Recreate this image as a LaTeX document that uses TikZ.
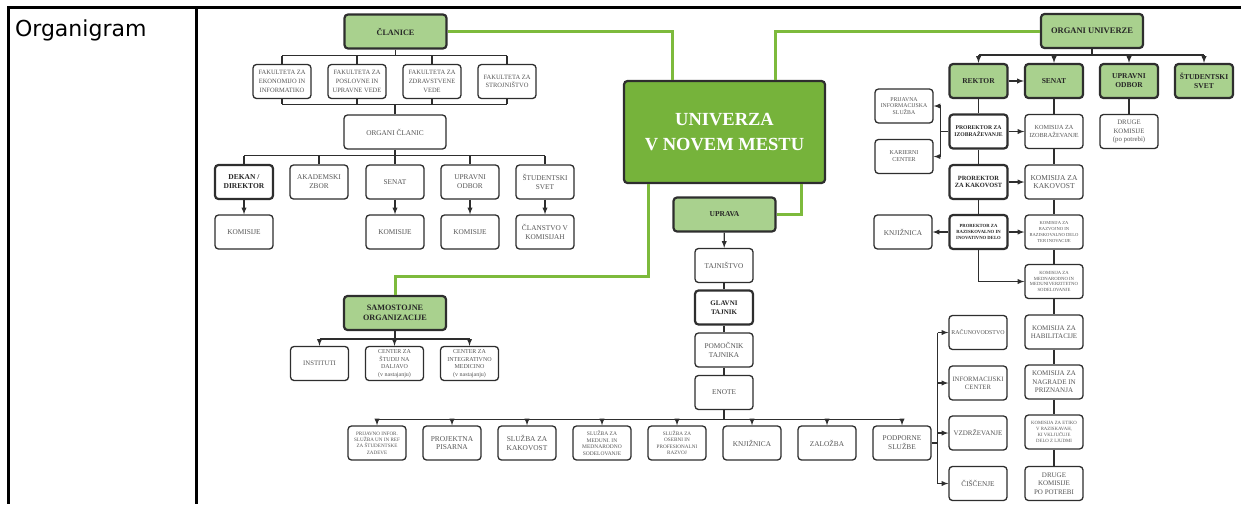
\documentclass[tikz,border=0pt]{standalone}
\usepackage{fontspec}
\setmainfont{Liberation Serif}
\newfontfamily\headfont{DejaVu Sans}
\usetikzlibrary{arrows}

\definecolor{boxline}{HTML}{2E2E2E}
\definecolor{boxtext}{HTML}{555555}
\definecolor{palegreen}{HTML}{A9D18E}
\definecolor{midgreen}{HTML}{76B33B}
\definecolor{linegreen}{HTML}{7DBA3C}

\tikzset{
  box/.style={draw=boxline, line width=1.3pt, rounded corners=3.5pt, fill=white,
    minimum width=58pt, minimum height=34pt, inner sep=0pt, align=center,
    text=boxtext, font=\fontsize{7.3}{8.8}\selectfont},
  boldbox/.style={box, line width=2.2pt, text=black!85, execute at begin node=\bfseries},
  greenbox/.style={boldbox, fill=palegreen},
  wide/.style={minimum width=102pt},
  fs/.style 2 args={font=\fontsize{#1}{#2}\selectfont},
  link/.style={draw=boxline, line width=1.3pt},
  arr/.style={link, ->},
  greenlink/.style={draw=linegreen, line width=3pt}
}

\begin{document}
\begin{tikzpicture}[x=1pt, y=-1pt, >=latex]
\useasboundingbox (0,0) rectangle (1241,504);

% table frame
\draw[line width=3pt] (7,7.5) -- (1241,7.5);
\draw[line width=3pt] (8.5,6) -- (8.5,504);
\draw[line width=3pt] (196.5,6) -- (196.5,504);
\node[anchor=base west, font=\headfont\fontsize{22}{24}\selectfont] (title) at (11.5,36.5) {Organigram};

% univerza
\node[box, line width=2.2pt, fill=midgreen, minimum width=201pt, minimum height=102pt,
  text=white, font=\bfseries\fontsize{18.5}{25}\selectfont] (univerza) at (724.5,132)
  {UNIVERZA\\V NOVEM MESTU};
\node[greenbox, wide, fs={7.5}{9}] (uprava) at (724.5,214.5) {UPRAVA};

% clanice
\node[greenbox, wide, fs={8.2}{9}] (clanice) at (395.5,31.5) {ČLANICE};
\node[box, fs={6.5}{8.7}] (fak1) at (282,81.5) {FAKULTETA ZA\\EKONOMIJO IN\\INFORMATIKO};
\node[box, fs={6.5}{8.7}] (fak2) at (357,81.5) {FAKULTETA ZA\\POSLOVNE IN\\UPRAVNE VEDE};
\node[box, fs={6.5}{8.7}] (fak3) at (432,81.5) {FAKULTETA ZA\\ZDRAVSTVENE\\VEDE};
\node[box, fs={6.5}{8.7}] (fak4) at (507,81.5) {FAKULTETA ZA\\STROJNIŠTVO};
\node[box, wide] (organi) at (395,132) {ORGANI ČLANIC};
\node[boldbox, fs={7.5}{9}] (dekan) at (244,182) {DEKAN /\\DIREKTOR};
\node[box] (zbor) at (319,182) {AKADEMSKI\\ZBOR};
\node[box] (senatc) at (395,182) {SENAT};
\node[box] (odborc) at (470,182) {UPRAVNI\\ODBOR};
\node[box] (svetc) at (545,182) {ŠTUDENTSKI\\SVET};
\node[box] (kom1) at (244,232) {KOMISIJE};
\node[box] (kom2) at (395,232) {KOMISIJE};
\node[box] (kom3) at (470,232) {KOMISIJE};
\node[box] (clanstvo) at (545,232) {ČLANSTVO V\\KOMISIJAH};

% samostojne organizacije
\node[greenbox, wide, fs={8.2}{9.5}] (samost) at (395,313) {SAMOSTOJNE\\ORGANIZACIJE};
\node[box, fs={6.8}{8}] (inst) at (319.5,363.5) {INSTITUTI};
\node[box, fs={6}{7.6}] (dalj) at (394.5,363.5) {CENTER ZA\\ŠTUDIJ NA\\DALJAVO\\(v nastajanju)};
\node[box, fs={6}{7.6}] (integr) at (469.5,363.5) {CENTER ZA\\INTEGRATIVNO\\MEDICINO\\(v nastajanju)};

% uprava
\node[box] (tajnistvo) at (724,265.5) {TAJNIŠTVO};
\node[boldbox, fs={7}{8.6}] (glavni) at (724,307.5) {GLAVNI\\TAJNIK};
\node[box] (pomocnik) at (724,350) {POMOČNIK\\TAJNIKA};
\node[box] (enote) at (724,392.5) {ENOTE};
\node[box, fs={5.1}{6.3}] (en1) at (377,443) {PRIJAVNO INFOR.\\SLUŽBA UN IN REF\\ZA ŠTUDENTSKE\\ZADEVE};
\node[box, fs={7.4}{8.5}] (en2) at (452,443) {PROJEKTNA\\PISARNA};
\node[box, fs={7.4}{8.5}] (en3) at (527,443) {SLUŽBA ZA\\KAKOVOST};
\node[box, fs={5.5}{6.5}] (en4) at (602,443) {SLUŽBA ZA\\MEDUNI. IN\\MEDNARODNO\\SODELOVANJE};
\node[box, fs={5.2}{6.5}] (en5) at (677,443) {SLUŽBA ZA\\OSEBNI IN\\PROFESIONALNI\\RAZVOJ};
\node[box] (knjiz) at (752,443) {KNJIŽNICA};
\node[box] (zalozba) at (827,443) {ZALOŽBA};
\node[box] (podporne) at (902,443) {PODPORNE\\SLUŽBE};
\node[box, fs={5.9}{7}] (rac) at (978,332.5) {RAČUNOVODSTVO};
\node[box, fs={6.7}{8}] (info) at (978,383) {INFORMACIJSKI\\CENTER};
\node[box, fs={7}{8}] (vzdr) at (978,433) {VZDRŽEVANJE};
\node[box] (cisc) at (978,483.5) {ČIŠČENJE};

% organi univerze
\node[greenbox, wide, fs={8.5}{9.5}] (organiu) at (1092,31) {ORGANI UNIVERZE};
\node[greenbox, fs={7.5}{9}] (rektor) at (978.5,81) {REKTOR};
\node[greenbox, fs={7.5}{9}] (senat) at (1054,81) {SENAT};
\node[greenbox, fs={7.5}{9}] (odbor) at (1129,81) {UPRAVNI\\ODBOR};
\node[greenbox, fs={7.5}{9}] (svet) at (1204,81) {ŠTUDENTSKI\\SVET};
\node[box, fs={6.8}{8.7}] (druge) at (1129,131.5) {DRUGE\\KOMISIJE\\(po potrebi)};
\node[boldbox, fs={5.7}{7}] (prizob) at (978.5,131.5) {PROREKTOR ZA\\IZOBRAŽEVANJE};
\node[box, fs={6.2}{7.5}] (komizob) at (1054,131.5) {KOMISIJA ZA\\IZOBRAŽEVANJE};
\node[box, fs={5.8}{6.6}] (prijavna) at (904,106) {PRIJAVNA\\INFORMACIJSKA\\SLUŽBA};
\node[box, fs={6}{7}] (kariera) at (904,156.5) {KARIERNI\\CENTER};
\node[boldbox, fs={6.4}{7.8}] (przkak) at (978.5,182) {PROREKTOR\\ZA KAKOVOST};
\node[box, fs={7.5}{8.8}] (komkak) at (1054,182) {KOMISIJA ZA\\KAKOVOST};
\node[boldbox, fs={4.7}{6}] (przraz) at (978.5,232) {PROREKTOR ZA\\RAZISKOVALNO IN\\INOVATIVNO DELO};
\node[box, fs={4.6}{5.8}] (komraz) at (1054,232) {KOMISIJA ZA\\RAZVOJNO IN\\RAZISKOVALNO DELO\\TER INOVACIJE};
\node[box] (knjizu) at (903,232) {KNJIŽNICA};
\node[box, fs={4.7}{5.8}] (kommed) at (1054,281.5) {KOMISIJA ZA\\MEDNARODNO IN\\MEDUNIVERZITETNO\\SODELOVANJE};
\node[box, fs={7}{8.5}] (komhab) at (1054,332) {KOMISIJA ZA\\HABILITACIJE};
\node[box, fs={7}{8.5}] (komnag) at (1054,382) {KOMISIJA ZA\\NAGRADE IN\\PRIZNANJA};
\node[box, fs={4.8}{5.8}] (kometi) at (1054,432) {KOMISIJA ZA ETIKO\\V RAZISKAVAH,\\KI VKLJUČUJE\\DELO Z LJUDMI};
\node[box, fs={7}{8.5}] (komdrug) at (1054,483.5) {DRUGE\\KOMISIJE\\PO POTREBI};

% green links
\draw[greenlink] (clanice.east) -| ([xshift=50pt]univerza.north west);
\draw[greenlink] (organiu.west) -| ([xshift=-51pt]univerza.north east);
\draw[greenlink] ([xshift=26pt]univerza.south west) -- ++(0,92) -| (samost.north);
\draw[greenlink] ([xshift=-25pt]univerza.south east) |- (uprava.east);

% clanice tree
\draw[link] (clanice.south) -- ++(0,6) coordinate (clbus);
\draw[link] (fak1.north |- clbus) -- (fak4.north |- clbus);
\draw[link] (organi.north) -- ++(0,-10) coordinate (fakbus);
\draw[link] (fak1.south |- fakbus) -- (fak4.south |- fakbus);
\foreach \f in {fak1,fak2,fak3,fak4} {
  \draw[link] (\f.north |- clbus) -- (\f.north);
  \draw[link] (\f.south) -- (\f.south |- fakbus);
}
\draw[link] (organi.south) -- ++(0,6) coordinate (orbus);
\draw[link] (dekan.north |- orbus) -- (svetc.north |- orbus);
\foreach \f in {dekan,zbor,senatc,odborc,svetc}
  \draw[link] (\f.north |- orbus) -- (\f.north);
\foreach \a/\b in {dekan/kom1,senatc/kom2,odborc/kom3,svetc/clanstvo}
  \draw[arr] (\a) -- (\b);

% samostojne
\draw[link] (samost.south) -- ++(0,8) coordinate (sobus);
\draw[link] (inst.north |- sobus) -- (integr.north |- sobus);
\foreach \f in {inst,dalj,integr}
  \draw[arr] (\f.north |- sobus) -- (\f.north);

% uprava column
\draw[arr] (uprava) -- (tajnistvo);
\draw[link] (tajnistvo) -- (glavni) -- (pomocnik) -- (enote);
\draw[link] (enote.south) -- ++(0,9) coordinate (enbus);
\draw[link] (en1.north |- enbus) -- (podporne.north |- enbus);
\foreach \f in {en1,en2,en3,en4,en5,knjiz,zalozba,podporne}
  \draw[arr] (\f.north |- enbus) -- (\f.north);
\draw[link] (podporne.east) -- ++(6,0) coordinate (pobus);
\draw[link] (pobus |- rac.west) -- (pobus |- cisc.west);
\foreach \f in {rac,info,vzdr,cisc}
  \draw[arr] (pobus |- \f.west) -- (\f.west);

% organi univerze tree
\draw[link] (organiu.south) -- ++(0,6) coordinate (oubus);
\draw[link] (rektor.north |- oubus) -- (svet.north |- oubus);
\foreach \f in {rektor,senat,odbor,svet}
  \draw[arr] (\f.north |- oubus) -- (\f.north);
\draw[arr] (rektor) -- (senat);
\draw[link] (odbor) -- (druge);
\draw[link] (rektor) -- (prizob) -- (przkak) -- (przraz);
\draw[link] (senat) -- (komizob) -- (komkak) -- (komraz) -- (kommed) -- (komhab)
  -- (komnag) -- (kometi) -- (komdrug);
\foreach \a/\b in {prizob/komizob,przkak/komkak,przraz/komraz,przraz/knjizu}
  \draw[arr] (\a) -- (\b);
\draw[link] (prizob.west) -- ++(-8,0) coordinate (prbus);
\draw[link] (prbus |- prijavna.east) -- (prbus |- kariera.east);
\foreach \f in {prijavna,kariera}
  \draw[arr] (prbus |- \f.east) -- (\f.east);
\draw[arr] (przraz.south) |- (kommed.west);

\end{tikzpicture}
\end{document}
